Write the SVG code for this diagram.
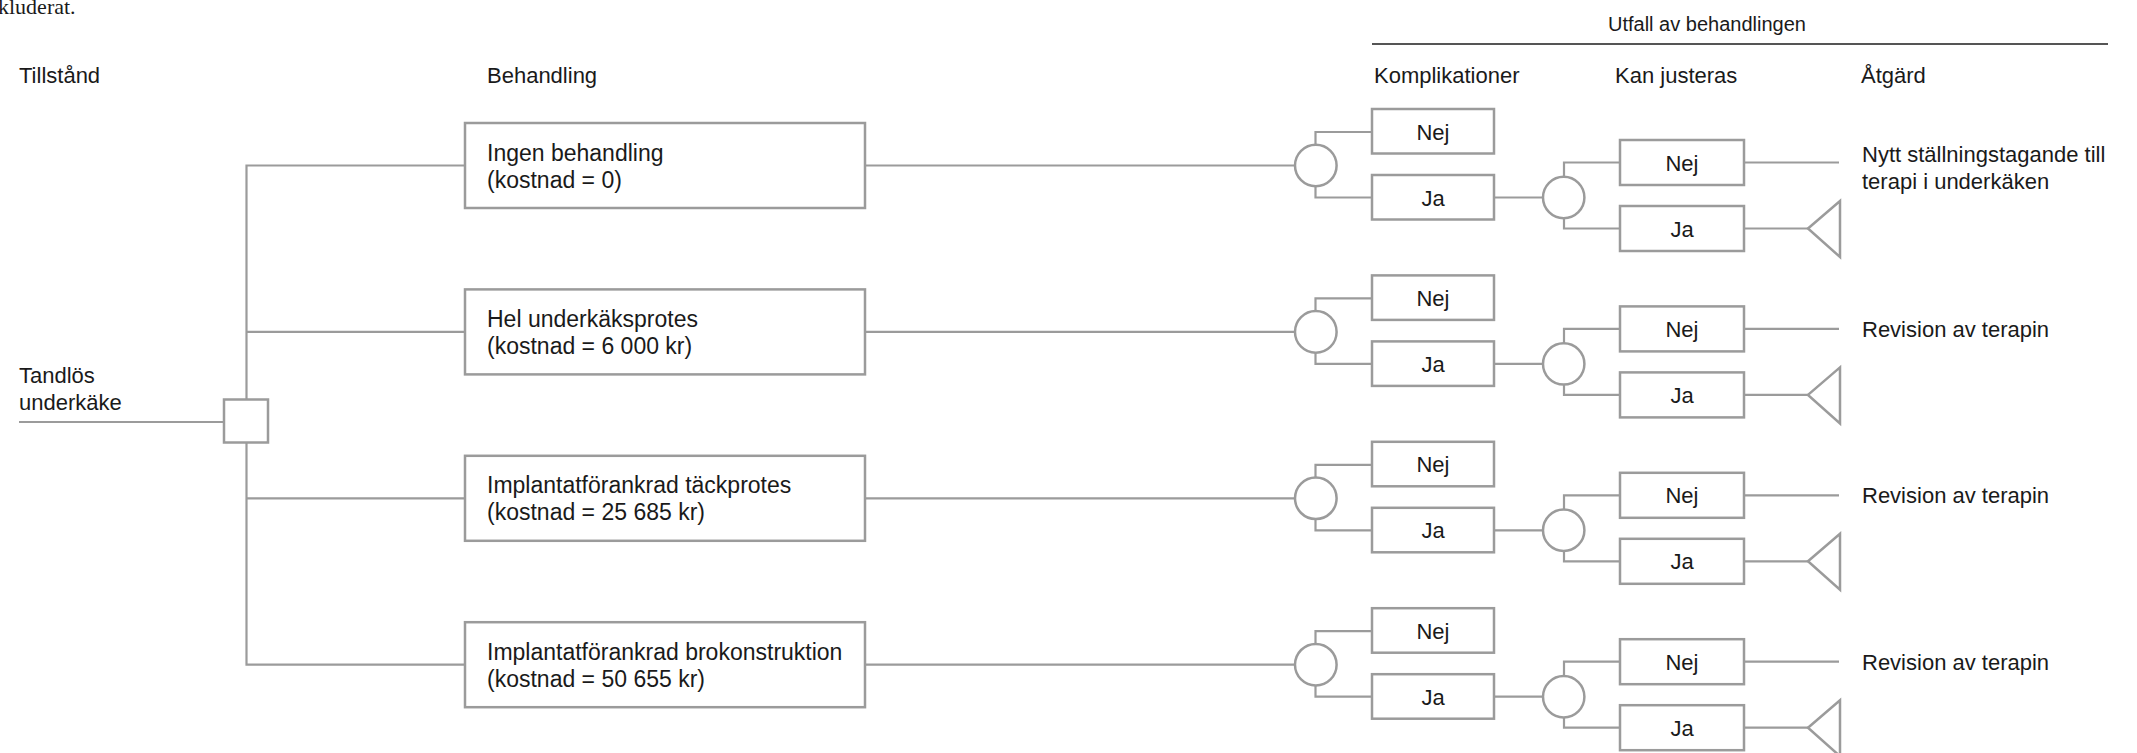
<svg xmlns="http://www.w3.org/2000/svg" width="2137" height="753" viewBox="0 0 2137 753">
<style>
text{font-family:"Liberation Sans",Arial,sans-serif;fill:#1a1a1a;}
.h{font-size:22px;}
.b{font-size:23px;}
.s{font-size:22px;}
.c{font-size:22px;text-anchor:middle;}
.t{font-size:20px;}
.box{fill:#fff;stroke:#9b9b9b;stroke-width:2.5;}
.ln{fill:none;stroke:#9b9b9b;stroke-width:2.2;}
.node{fill:#fff;stroke:#9b9b9b;stroke-width:2.5;}
</style>
<defs>
<g id="outcome">
<path class="ln" d="M1315.5,-21 V-33.5 H1372 M1315.5,21 V32 H1372 M1494,32 H1543 M1564,11 V-3 H1620 M1564,53 V63 H1620 M1744,-3 H1839 M1744,63 H1808"/>
<ellipse class="node" cx="1315.8" cy="0" rx="20.8" ry="20.8"/>
<ellipse class="node" cx="1563.7" cy="32" rx="20.7" ry="20.7"/>
<rect class="box" x="1372" y="-56.5" width="122" height="44.5"/>
<rect class="box" x="1372" y="9.5" width="122" height="44.5"/>
<rect class="box" x="1620" y="-25.5" width="124" height="45"/>
<rect class="box" x="1620" y="40.5" width="124" height="45"/>
<polygon class="node" points="1808,63 1840,35.5 1840,91.5"/>
<text class="c" x="1433" y="-26">Nej</text>
<text class="c" x="1433" y="40">Ja</text>
<text class="c" x="1682" y="5">Nej</text>
<text class="c" x="1682" y="71">Ja</text>
</g>
</defs>
<text x="-2" y="14" style="font-family:'Liberation Serif',serif;font-size:22px">kluderat.</text>
<g id="headers">
<text class="t" x="1608" y="31">Utfall av behandlingen</text>
<line x1="1372" y1="44" x2="2108" y2="44" stroke="#555" stroke-width="1.8"/>
<text class="h" x="19" y="83">Tillstånd</text>
<text class="h" x="487" y="83">Behandling</text>
<text class="h" x="1374" y="83">Komplikationer</text>
<text class="h" x="1615" y="83">Kan justeras</text>
<text class="h" x="1861" y="83">Åtgärd</text>
</g>
<g id="connectors">
<path class="ln" d="M19,422 H224 M465,165.5 H246.5 V399.5 M246.5,442.5 V664.7 H465 M246.5,331.9 H465 M246.5,498.3 H465"/>
<path class="ln" d="M865,165.5 H1295 M865,331.9 H1295 M865,498.3 H1295 M865,664.7 H1295"/>
</g>
<g id="root">
<rect class="node" x="224" y="399.5" width="44" height="43"/>
<text class="h" x="19" y="383">Tandlös</text>
<text class="h" x="19" y="410">underkäke</text>
</g>
<g id="t1">
<rect class="box" x="465" y="123" width="400" height="85"/>
<text class="b" x="487" y="160.5">Ingen behandling</text>
<text class="b" x="487" y="187.5">(kostnad = 0)</text>
</g>
<g id="t2">
<rect class="box" x="465" y="289.4" width="400" height="85"/>
<text class="b" x="487" y="326.9">Hel underkäksprotes</text>
<text class="b" x="487" y="353.9">(kostnad = 6 000 kr)</text>
</g>
<g id="t3">
<rect class="box" x="465" y="455.8" width="400" height="85"/>
<text class="b" x="487" y="493.3">Implantatförankrad täckprotes</text>
<text class="b" x="487" y="520.3">(kostnad = 25 685 kr)</text>
</g>
<g id="t4">
<rect class="box" x="465" y="622.2" width="400" height="85"/>
<text class="b" x="487" y="659.7">Implantatförankrad brokonstruktion</text>
<text class="b" x="487" y="686.7">(kostnad = 50 655 kr)</text>
</g>
<g id="o1" transform="translate(0,165.5)">
<use href="#outcome"/>
<text class="s" x="1862" y="-3.5">Nytt ställningstagande till</text>
<text class="s" x="1862" y="23">terapi i underkäken</text>
</g>
<g id="o2" transform="translate(0,331.9)">
<use href="#outcome"/>
<text class="s" x="1862" y="5">Revision av terapin</text>
</g>
<g id="o3" transform="translate(0,498.3)">
<use href="#outcome"/>
<text class="s" x="1862" y="5">Revision av terapin</text>
</g>
<g id="o4" transform="translate(0,664.7)">
<use href="#outcome"/>
<text class="s" x="1862" y="5">Revision av terapin</text>
</g>
</svg>
